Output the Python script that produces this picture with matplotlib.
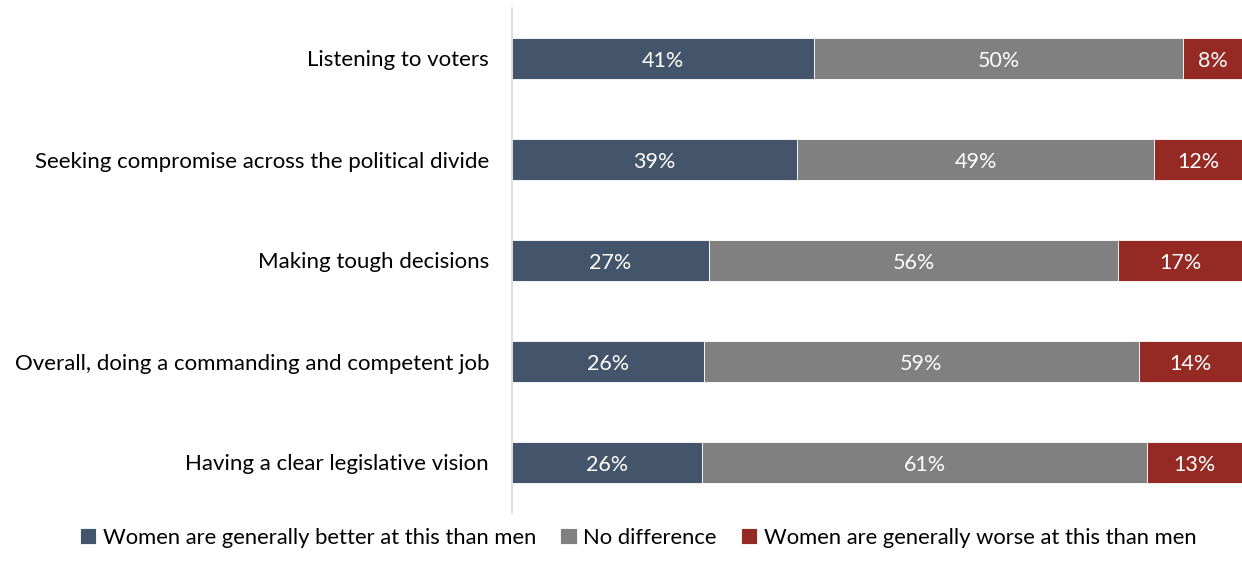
import matplotlib
matplotlib.use("Agg")
import matplotlib.pyplot as plt
import numpy as np

plt.rcParams['font.family'] = ['Lato', 'DejaVu Sans']

categories = [
    "Listening to voters",
    "Seeking compromise across the political divide",
    "Making tough decisions",
    "Overall, doing a commanding and competent job",
    "Having a clear legislative vision",
]
better = [41, 39, 27, 26, 26]
no_diff = [50, 49, 56, 59, 61]
worse = [8, 12, 17, 14, 13]

series_names = [
    "Women are generally better at this than men",
    "No difference",
    "Women are generally worse at this than men",
]
colors = ["#44546A", "#808080", "#952923"]

data = np.array([better, no_diff, worse], dtype=float)
shares = data / data.sum(axis=0) * 100  # 100% stacked

fig = plt.figure(figsize=(12.42, 5.77), dpi=100)
ax = fig.add_axes([512 / 1242, 1 - 513 / 577, 730 / 1242, 505 / 577])

y = np.arange(len(categories))
left = np.zeros(len(categories))
for i, (name, col) in enumerate(zip(series_names, colors)):
    bars = ax.barh(y, shares[i], left=left, height=0.4, color=col,
                   edgecolor="white", linewidth=0.6, label=name)
    for j, b in enumerate(bars):
        ax.text(left[j] + shares[i][j] / 2, y[j] + 0.02, f"{int(data[i][j])}%",
                ha="center", va="center", color="white", fontsize=15.5)
    left += shares[i]

ax.set_xlim(0, 100)
ax.set_ylim(len(categories) - 0.5, -0.5)
ax.set_yticks(y)
ax.set_yticklabels(categories, fontsize=16, color="#000000")
ax.tick_params(axis="y", length=0, pad=16.5)
ax.set_xticks([])
for s in ["top", "right", "bottom"]:
    ax.spines[s].set_visible(False)
ax.spines["left"].set_color("#D9D9D9")
ax.spines["left"].set_linewidth(1.2)

handles, labels = ax.get_legend_handles_labels()
fig.legend(handles, labels, loc="center", bbox_to_anchor=(638 / 1242, 1 - 538 / 577),
           ncol=3, frameon=False, fontsize=15.8, handlelength=0.75, handleheight=0.75,
           handletextpad=0.3, columnspacing=1.1)

fig.savefig("out.png", dpi=100)
